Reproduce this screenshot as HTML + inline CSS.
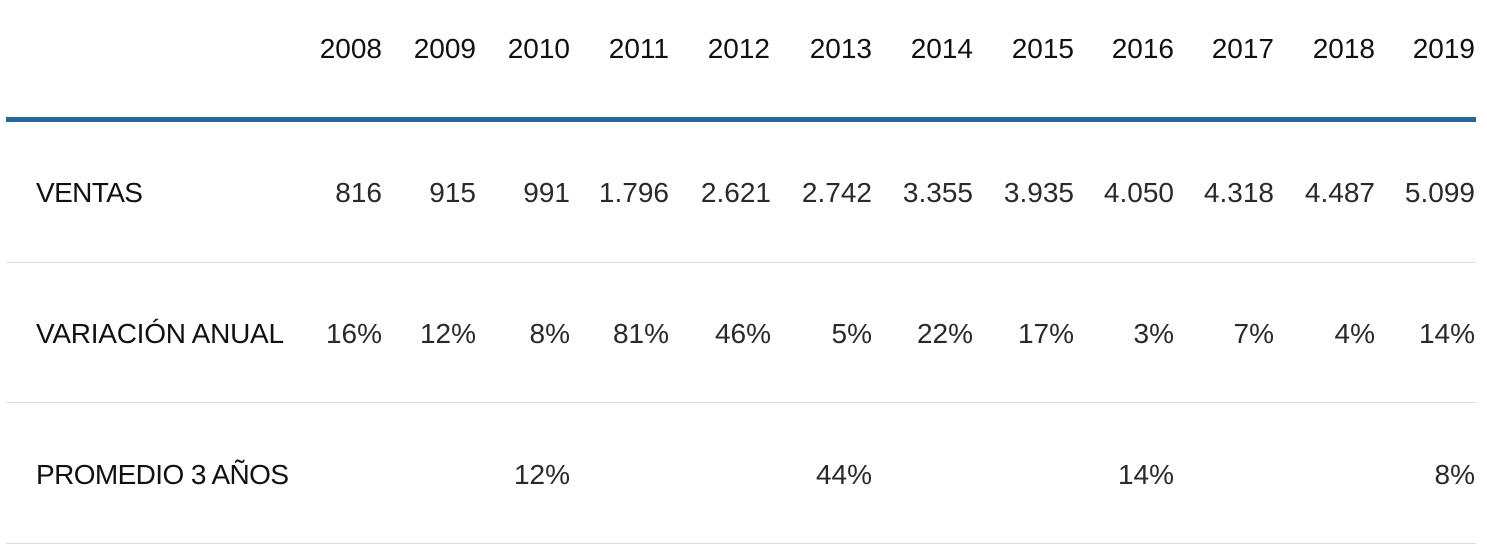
<!DOCTYPE html>
<html>
<head>
<meta charset="utf-8">
<style>
  html, body { margin:0; padding:0; background:#fff; }
  body { width:1487px; height:555px; overflow:hidden; }
  svg { display:block; }
  text { font-family: "Liberation Sans", Arial, sans-serif; font-size:28px; }
  .h { fill:#111; }
  .l { fill:#111; letter-spacing:-0.6px; }
  .l2 { fill:#111; letter-spacing:-0.25px; }
  .v { fill:#2a2a2a; }
</style>
</head>
<body>
<svg width="1487" height="555" viewBox="0 0 1487 555" xmlns="http://www.w3.org/2000/svg">
  <rect x="0" y="0" width="1487" height="555" fill="#fff"/>
  <!-- header -->
  <g class="h" text-anchor="end">
    <text x="382" y="58">2008</text>
    <text x="476" y="58">2009</text>
    <text x="570" y="58">2010</text>
    <text x="669" y="58">2011</text>
    <text x="770" y="58">2012</text>
    <text x="872" y="58">2013</text>
    <text x="973" y="58">2014</text>
    <text x="1074" y="58">2015</text>
    <text x="1174" y="58">2016</text>
    <text x="1274" y="58">2017</text>
    <text x="1375" y="58">2018</text>
    <text x="1475" y="58">2019</text>
  </g>
  <rect x="6" y="117" width="1470" height="5" fill="#2a6797"/>

  <!-- row labels -->
  <text class="l" x="36" y="202">VENTAS</text>
  <text class="l2" x="36" y="343">VARIACIÓN ANUAL</text>
  <text class="l" x="36" y="484">PROMEDIO 3 AÑOS</text>

  <!-- ventas -->
  <g class="v" text-anchor="end">
    <text x="382" y="202">816</text>
    <text x="476" y="202">915</text>
    <text x="570" y="202">991</text>
    <text x="669" y="202">1.796</text>
    <text x="771" y="202">2.621</text>
    <text x="872" y="202">2.742</text>
    <text x="973" y="202">3.355</text>
    <text x="1074" y="202">3.935</text>
    <text x="1174" y="202">4.050</text>
    <text x="1274" y="202">4.318</text>
    <text x="1375" y="202">4.487</text>
    <text x="1475" y="202">5.099</text>
  </g>
  <rect x="6" y="262" width="1470" height="1" fill="#dcdcdc"/>

  <!-- variacion -->
  <g class="v" text-anchor="end">
    <text x="382" y="343">16%</text>
    <text x="476" y="343">12%</text>
    <text x="570" y="343">8%</text>
    <text x="669" y="343">81%</text>
    <text x="771" y="343">46%</text>
    <text x="872" y="343">5%</text>
    <text x="973" y="343">22%</text>
    <text x="1074" y="343">17%</text>
    <text x="1174" y="343">3%</text>
    <text x="1274" y="343">7%</text>
    <text x="1375" y="343">4%</text>
    <text x="1475" y="343">14%</text>
  </g>
  <rect x="6" y="402" width="1470" height="1" fill="#dcdcdc"/>

  <!-- promedio -->
  <g class="v" text-anchor="end">
    <text x="570" y="484">12%</text>
    <text x="872" y="484">44%</text>
    <text x="1174" y="484">14%</text>
    <text x="1475" y="484">8%</text>
  </g>
  <rect x="6" y="543" width="1470" height="1" fill="#dcdcdc"/>
</svg>
</body>
</html>
